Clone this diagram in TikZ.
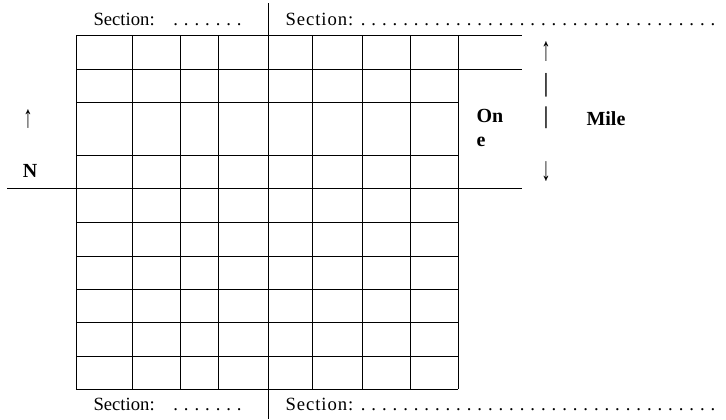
\documentclass[tikz,border=0pt]{standalone}
\usepackage{fontspec}
\setmainfont{Liberation Serif}
\newcount\dotk
\newcommand{\dotrun}[1]{\dotk=0 \loop\hbox to 7.95pt{\hss.\hss}\advance\dotk 1 \ifnum\dotk<#1\repeat}

\begin{document}
\begin{tikzpicture}[
    x=0.75pt, y=-0.75pt,
    line width=0.75pt,
    every node/.style={inner sep=0pt, font=\fontsize{14}{16}\selectfont},
    sectxt/.style={anchor=base west},
    widetxt/.style={anchor=base west, font=\fontsize{14}{16}\selectfont\addfontfeature{LetterSpace=5}},
    boldtxt/.style={font=\fontsize{15}{17.5}\selectfont\bfseries}
  ]
  \useasboundingbox (0,0) rectangle (726,419);
  % section grid
  \foreach \y in {35,69,102,155,188,222,256,289,322,356,389}
    \draw (76,\y) -- (458,\y);
  \foreach \x in {76,132,180,218,268,312,362,410,458}
    \draw (\x,35) -- (\x,389);
  % lines beyond the grid
  \draw (458,35) -- (522,35);
  \draw (458,69) -- (522,69);
  \draw (458,188) -- (522,188);
  \draw (7,188) -- (76,188);
  \draw (268,3) -- (268,35);
  \draw (268,389) -- (268,419);

  \node[sectxt] (secTL) at (93,25) {Section:\hskip 11.8pt\dotrun{7}};
  \node[widetxt] (secTR) at (285,25) {Section:\hskip 3.5pt\dotrun{34}};
  \node[sectxt] (secBL) at (93,410) {Section:\hskip 11.8pt\dotrun{7}};
  \node[widetxt] (secBR) at (285,410) {Section:\hskip 3.5pt\dotrun{34}};

  \node (northArrow) at (28,119) {\scalebox{1}[1.7]{↑}};
  \node[boldtxt] (northN) at (30,171) {N};

  \node (mileUp) at (546,52) {\scalebox{1}[1.8]{↑}};
  \node[boldtxt] (barA) at (546,85) {\scalebox{1}[1.3]{|}};
  \node[boldtxt] (barB) at (546,118) {\scalebox{1}[1.2]{|}};
  \node (mileDown) at (546,172) {\scalebox{1}[1.8]{↓}};
  \node[boldtxt, anchor=north west, align=left] (oneTxt) at (476,109) {On\\e};
  \node[boldtxt, anchor=base west] (mileTxt) at (586,125) {Mile};
\end{tikzpicture}
\end{document}
